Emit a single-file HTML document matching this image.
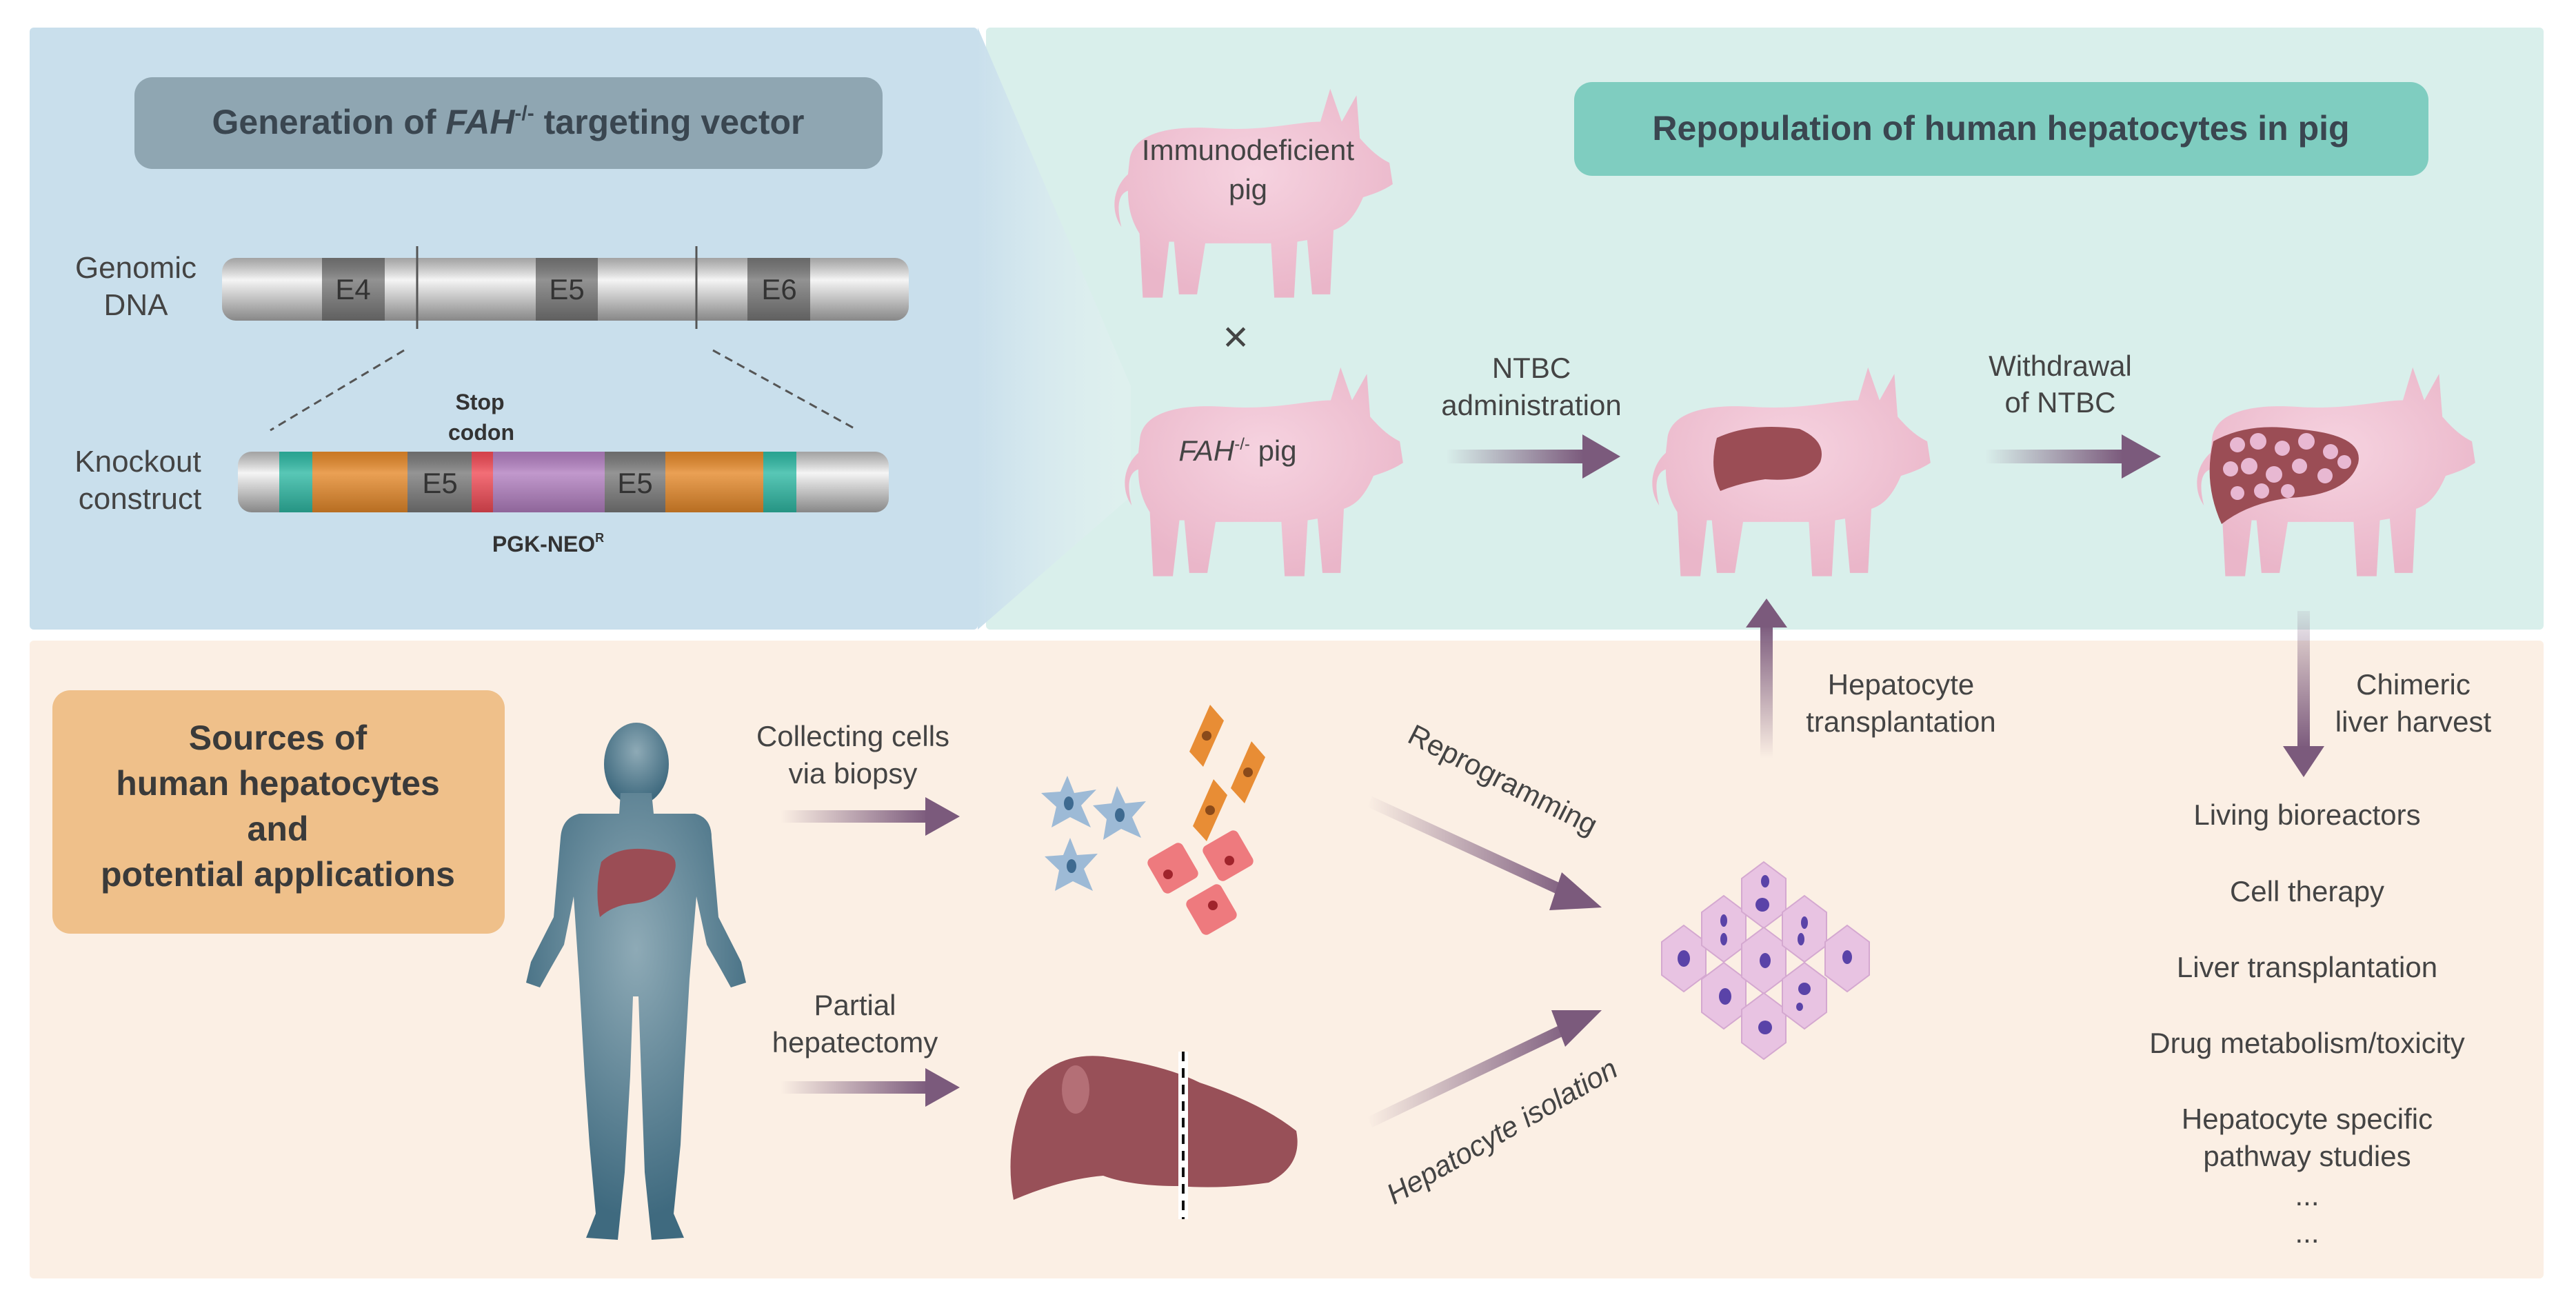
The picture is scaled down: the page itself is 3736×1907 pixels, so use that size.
<!DOCTYPE html>
<html><head><meta charset="utf-8"><style>
html,body{margin:0;padding:0;background:#fff}
svg{display:block}
text{font-family:"Liberation Sans",sans-serif}
</style></head><body>
<svg width="3736" height="1907" viewBox="0 0 3736 1907" xmlns="http://www.w3.org/2000/svg">
<defs>
<linearGradient id="ga" x1="0" y1="0" x2="1" y2="0"><stop offset="0" stop-color="#7b5a7c" stop-opacity="0"/><stop offset="1" stop-color="#7b5a7c"/></linearGradient>
<linearGradient id="gv" x1="0" y1="1" x2="0" y2="0"><stop offset="0" stop-color="#7b5a7c" stop-opacity="0"/><stop offset="1" stop-color="#7b5a7c"/></linearGradient>
<linearGradient id="gd" x1="0" y1="0" x2="0" y2="1"><stop offset="0" stop-color="#7b5a7c" stop-opacity="0.1"/><stop offset="1" stop-color="#7b5a7c"/></linearGradient>
<linearGradient id="bar" x1="0" y1="0" x2="0" y2="1"><stop offset="0" stop-color="#b9b9b9"/><stop offset="0.35" stop-color="#f2f2f2"/><stop offset="1" stop-color="#a9a9a9"/></linearGradient>
<linearGradient id="shade" x1="0" y1="0" x2="0" y2="1"><stop offset="0" stop-color="#000" stop-opacity="0.12"/><stop offset="0.35" stop-color="#fff" stop-opacity="0.2"/><stop offset="1" stop-color="#000" stop-opacity="0.2"/></linearGradient>
<linearGradient id="fun" x1="0" y1="0" x2="1" y2="0"><stop offset="0" stop-color="#c9dfec"/><stop offset="1" stop-color="#e6f2f3" stop-opacity="0.4"/></linearGradient>
<radialGradient id="hum" cx="0.5" cy="0.35" r="0.6"><stop offset="0" stop-color="#8eaab6"/><stop offset="1" stop-color="#3f6a7f"/></radialGradient>
<radialGradient id="pg" cx="0.5" cy="0.4" r="0.6"><stop offset="0" stop-color="#f6d3e0"/><stop offset="1" stop-color="#eab6c9"/></radialGradient>
<symbol id="pig" viewBox="0 0 180 130">
<path d="M18,45 C20,30 40,24 70,26 C100,28 120,22 134,22 L140,2 L147,22 L156,6 L158,32 C165,40 170,44 176,47 L178,60 C172,64 166,66 160,68 C154,82 148,86 142,88 L140,127 L129,127 L126,94 L120,95 L118,129 L106,129 L104,96 L64,96 L59,127 L48,127 L45,95 L42,95 L38,129 L26,129 L24,90 C19,82 17,74 17,64 C11,66 10,74 13,86 C6,76 8,62 17,54 Z" fill="url(#pg)"/>
</symbol>
</defs>
<rect width="3736" height="1907" fill="#fff"/>
<rect x="43" y="40" width="1375" height="873" rx="6" fill="#c9dfec"/>
<rect x="1430" y="40" width="2259" height="873" rx="6" fill="#d9efeb"/>
<polygon points="1418,40 1640,560 1640,720 1418,913" fill="url(#fun)"/>
<rect x="43" y="929" width="3646" height="925" rx="6" fill="#fbefe4"/>
<rect x="195" y="112" width="1085" height="133" rx="26" fill="#8fa6b2"/>
<text x="737" y="194" font-size="50" font-weight="bold" fill="#3a4650" text-anchor="middle">Generation of <tspan font-style="italic">FAH</tspan><tspan font-size="30" dy="-20">-/-</tspan><tspan dy="20"> targeting vector</tspan></text>
<rect x="2283" y="119" width="1239" height="136" rx="26" fill="#7fcdc0"/>
<text x="2902" y="203" font-size="50" font-weight="bold" fill="#3a4650" text-anchor="middle">Repopulation of human hepatocytes in pig</text>
<g font-size="44" fill="#444" text-anchor="middle">
<text x="197" y="403">Genomic</text><text x="197" y="457">DNA</text>
<text x="200" y="684">Knockout</text><text x="203" y="738">construct</text>
</g>
<rect x="322" y="374" width="996" height="91" rx="20" fill="url(#bar)"/>
<rect x="467" y="374" width="91" height="91" fill="#777"/>
<rect x="777" y="374" width="90" height="91" fill="#777"/>
<rect x="1084" y="374" width="91" height="91" fill="#777"/>
<rect x="322" y="374" width="996" height="91" rx="20" fill="url(#shade)"/>
<g font-size="42" fill="#333" text-anchor="middle"><text x="512" y="434">E4</text><text x="822" y="434">E5</text><text x="1130" y="434">E6</text></g>
<line x1="605" y1="357" x2="605" y2="477" stroke="#555" stroke-width="3"/>
<line x1="1010" y1="357" x2="1010" y2="477" stroke="#555" stroke-width="3"/>
<line x1="586" y1="508" x2="392" y2="624" stroke="#555" stroke-width="3" stroke-dasharray="12,8"/>
<line x1="1034" y1="508" x2="1244" y2="624" stroke="#555" stroke-width="3" stroke-dasharray="12,8"/>
<rect x="345" y="655" width="944" height="88" rx="20" fill="url(#bar)"/>
<rect x="405" y="655" width="48" height="88" fill="#2fb9a4"/>
<rect x="453" y="655" width="138" height="88" fill="#e5892a"/>
<rect x="591" y="655" width="93" height="88" fill="#7a7a7a"/>
<rect x="684" y="655" width="31" height="88" fill="#f04a55"/>
<rect x="715" y="655" width="162" height="88" fill="#b27fc0"/>
<rect x="877" y="655" width="88" height="88" fill="#7a7a7a"/>
<rect x="965" y="655" width="142" height="88" fill="#e5892a"/>
<rect x="1107" y="655" width="48" height="88" fill="#2fb9a4"/>
<rect x="345" y="655" width="944" height="88" rx="20" fill="url(#shade)"/>
<g font-size="42" fill="#333" text-anchor="middle"><text x="638" y="715">E5</text><text x="921" y="715">E5</text></g>
<g font-size="32" font-weight="bold" fill="#333" text-anchor="middle">
<text x="696" y="594">Stop</text><text x="698" y="638">codon</text>
<text x="795" y="800">PGK-NEO<tspan font-size="18" dy="-14">R</tspan></text>
</g>
<use href="#pig" x="1590" y="124" width="440" height="310"/>
<use href="#pig" x="1605" y="528" width="440" height="310"/>
<use href="#pig" x="2370" y="528" width="440" height="310"/>
<use href="#pig" x="3160" y="528" width="440" height="310"/>
<g font-size="42" fill="#444" text-anchor="middle">
<text x="1810" y="232">Immunodeficient</text><text x="1810" y="289">pig</text>
<text x="1795" y="668"><tspan font-style="italic">FAH</tspan><tspan font-size="24" dy="-16">-/-</tspan><tspan dy="16"> pig</tspan></text>
<text x="1792" y="510" font-size="64">×</text>
<text x="2221" y="548">NTBC</text><text x="2221" y="602">administration</text>
<text x="2988" y="545">Withdrawal</text><text x="2988" y="598">of NTBC</text>
</g>
<path d="M2490,635 Q2540,612 2610,622 Q2650,640 2640,670 Q2625,700 2560,695 Q2525,700 2495,712 Q2478,680 2490,635Z" fill="#9b4d55"/>
<path d="M3210,640 Q3260,612 3330,622 Q3430,630 3420,672 Q3405,718 3320,722 Q3260,730 3222,760 Q3195,700 3210,640Z" fill="#9b4d55"/>
<g fill="#e8b8d2">
<circle cx="3245" cy="645" r="11"/><circle cx="3275" cy="640" r="12"/><circle cx="3310" cy="650" r="11"/><circle cx="3345" cy="640" r="12"/><circle cx="3380" cy="655" r="11"/><circle cx="3235" cy="680" r="11"/><circle cx="3262" cy="676" r="12"/><circle cx="3298" cy="688" r="12"/><circle cx="3335" cy="676" r="11"/><circle cx="3372" cy="690" r="11"/><circle cx="3400" cy="670" r="10"/><circle cx="3245" cy="715" r="10"/><circle cx="3280" cy="712" r="11"/><circle cx="3318" cy="712" r="10"/>
</g>
<rect x="2097" y="652" width="200" height="20" fill="url(#ga)"/><polygon points="2295,630 2350,662 2295,694" fill="#7b5a7c"/>
<rect x="2879" y="652" width="200" height="20" fill="url(#ga)"/><polygon points="3077,630 3134,662 3077,694" fill="#7b5a7c"/>
<rect x="2553" y="905" width="18" height="195" fill="url(#gv)"/><polygon points="2532,910 2562,868 2592,910" fill="#7b5a7c"/>
<rect x="3332" y="886" width="18" height="200" fill="url(#gd)"/><polygon points="3311,1082 3341,1127 3371,1082" fill="#7b5a7c"/>
<g font-size="42" fill="#444" text-anchor="middle">
<text x="2757" y="1007">Hepatocyte</text><text x="2757" y="1061">transplantation</text>
<text x="3500" y="1007">Chimeric</text><text x="3500" y="1061">liver harvest</text>
<text x="3346" y="1196">Living bioreactors</text>
<text x="3346" y="1307">Cell therapy</text>
<text x="3346" y="1417">Liver transplantation</text>
<text x="3346" y="1527">Drug metabolism/toxicity</text>
<text x="3346" y="1637">Hepatocyte specific</text>
<text x="3346" y="1691">pathway studies</text>
<text x="3346" y="1748">...</text><text x="3346" y="1802">...</text>
</g>
<rect x="76" y="1001" width="656" height="353" rx="26" fill="#efc08a"/>
<g font-size="50" font-weight="bold" fill="#3a3a3a" text-anchor="middle">
<text x="403" y="1087">Sources of</text><text x="403" y="1153">human hepatocytes</text><text x="403" y="1219">and</text><text x="403" y="1285">potential applications</text>
</g>
<ellipse cx="923" cy="1108" rx="47" ry="60" fill="url(#hum)"/>
<path d="M900,1150 L945,1150 L948,1180 L1008,1180 Q1032,1186 1032,1215 L1042,1330 L1075,1395 L1082,1425 L1060,1432 L1045,1405 L1025,1370 L1010,1300 L1000,1420 L992,1560 L987,1660 L977,1760 L992,1795 L945,1798 L935,1700 L930,1560 L926,1445 L918,1445 L914,1560 L906,1700 L896,1798 L850,1795 L864,1760 L855,1660 L848,1560 L840,1420 L832,1300 L818,1370 L798,1405 L783,1432 L763,1425 L770,1395 L803,1330 L813,1215 Q815,1186 840,1180 L898,1180 Z" fill="url(#hum)"/>
<path d="M872,1250 Q900,1222 960,1235 Q986,1240 978,1265 Q965,1305 920,1310 Q890,1312 870,1330 Q862,1290 872,1250Z" fill="#9b4d55"/>
<g font-size="42" fill="#444" text-anchor="middle">
<text x="1237" y="1082">Collecting cells</text><text x="1237" y="1136">via biopsy</text>
<text x="1240" y="1472">Partial</text><text x="1240" y="1526">hepatectomy</text>
</g>
<rect x="1132" y="1175" width="215" height="18" fill="url(#ga)"/><polygon points="1342,1156 1392,1184 1342,1212" fill="#7b5a7c"/>
<rect x="1132" y="1568" width="215" height="18" fill="url(#ga)"/><polygon points="1342,1549 1392,1577 1342,1605" fill="#7b5a7c"/>
<g fill="#9dbad6">
<path d="M1548,1125 L1558,1150 L1590,1145 L1568,1168 L1582,1200 L1552,1185 L1525,1200 L1532,1170 L1510,1150 L1538,1148Z"/>
<path d="M1620,1140 L1632,1165 L1662,1162 L1642,1185 L1655,1215 L1626,1202 L1600,1218 L1605,1188 L1585,1168 L1612,1165Z"/>
<path d="M1552,1215 L1562,1240 L1592,1238 L1572,1260 L1585,1292 L1556,1278 L1530,1292 L1536,1262 L1515,1242 L1542,1240Z"/>
</g>
<g fill="#3e6a90"><ellipse cx="1550" cy="1165" rx="7" ry="10"/><ellipse cx="1624" cy="1182" rx="7" ry="10"/><ellipse cx="1554" cy="1256" rx="7" ry="10"/></g>
<g fill="#e88d35">
<polygon points="1755,1022 1775,1045 1745,1112 1725,1090"/>
<polygon points="1815,1075 1835,1098 1805,1165 1785,1143"/>
<polygon points="1760,1130 1780,1153 1750,1220 1730,1198"/>
</g>
<g fill="#8a4a1a"><circle cx="1750" cy="1067" r="7"/><circle cx="1810" cy="1120" r="7"/><circle cx="1755" cy="1175" r="7"/></g>
<g fill="#ee7a7e">
<rect x="1672" y="1230" width="58" height="58" rx="8" transform="rotate(-30 1701 1259)"/>
<rect x="1752" y="1212" width="58" height="58" rx="8" transform="rotate(-30 1781 1241)"/>
<rect x="1728" y="1290" width="58" height="58" rx="8" transform="rotate(-30 1757 1319)"/>
</g>
<g fill="#a0242c"><circle cx="1694" cy="1268" r="7"/><circle cx="1783" cy="1248" r="7"/><circle cx="1759" cy="1313" r="7"/></g>
<path d="M1490,1580 Q1530,1525 1600,1532 Q1690,1545 1740,1570 Q1830,1600 1880,1640 Q1890,1690 1840,1715 Q1770,1725 1710,1720 Q1640,1720 1600,1705 Q1540,1710 1470,1740 Q1455,1660 1490,1580Z" fill="#985058"/>
<ellipse cx="1560" cy="1580" rx="20" ry="35" fill="#c7838a" opacity="0.6"/>
<line x1="1716" y1="1525" x2="1716" y2="1768" stroke="#fff" stroke-width="14"/>
<line x1="1716" y1="1525" x2="1716" y2="1768" stroke="#111" stroke-width="4" stroke-dasharray="14,10"/>
<polygon points="1990,1155 2283,1290 2276,1305 1983,1170" fill="url(#ga)"/>
<polygon points="2265,1265 2323,1316 2247,1320" fill="#7b5a7c"/>
<polygon points="1983,1620 2280,1478 2287,1493 1990,1635" fill="url(#ga)"/>
<polygon points="2250,1465 2323,1465 2270,1518" fill="#7b5a7c"/>
<g font-size="42" fill="#444" text-anchor="middle">
<text x="2180" y="1145" transform="rotate(27 2180 1130)">Reprogramming</text>
<text x="2178" y="1655" transform="rotate(-30 2178 1640)" font-style="italic">Hepatocyte isolation</text>
</g>
<g fill="#e8c3e2" stroke="#d4a8d0" stroke-width="2">
<polygon points="2442,1342 2474,1366 2474,1414 2442,1438 2410,1414 2410,1366"/>
<polygon points="2500,1299 2532,1323 2532,1371 2500,1395 2468,1371 2468,1323"/>
<polygon points="2500,1396 2532,1420 2532,1468 2500,1492 2468,1468 2468,1420"/>
<polygon points="2558,1250 2590,1274 2590,1322 2558,1346 2526,1322 2526,1274"/>
<polygon points="2558,1345 2590,1369 2590,1417 2558,1441 2526,1417 2526,1369"/>
<polygon points="2558,1440 2590,1464 2590,1512 2558,1536 2526,1512 2526,1464"/>
<polygon points="2617,1299 2649,1323 2649,1371 2617,1395 2585,1371 2585,1323"/>
<polygon points="2617,1396 2649,1420 2649,1468 2617,1492 2585,1468 2585,1420"/>
<polygon points="2679,1342 2711,1366 2711,1414 2679,1438 2647,1414 2647,1366"/>
</g>
<g fill="#5a43a8">
<ellipse cx="2442" cy="1390" rx="9" ry="12"/><ellipse cx="2500" cy="1335" rx="5" ry="9"/><ellipse cx="2500" cy="1362" rx="5" ry="9"/><ellipse cx="2502" cy="1445" rx="9" ry="12"/>
<ellipse cx="2560" cy="1278" rx="6" ry="9"/><ellipse cx="2556" cy="1312" rx="10" ry="10"/><ellipse cx="2560" cy="1393" rx="8" ry="11"/><ellipse cx="2560" cy="1490" rx="10" ry="10"/>
<ellipse cx="2617" cy="1338" rx="5" ry="9"/><ellipse cx="2612" cy="1362" rx="5" ry="9"/><ellipse cx="2617" cy="1434" rx="9" ry="9"/><ellipse cx="2610" cy="1460" rx="5" ry="6"/><ellipse cx="2679" cy="1388" rx="7" ry="10"/>
</g>
</svg>
</body></html>
